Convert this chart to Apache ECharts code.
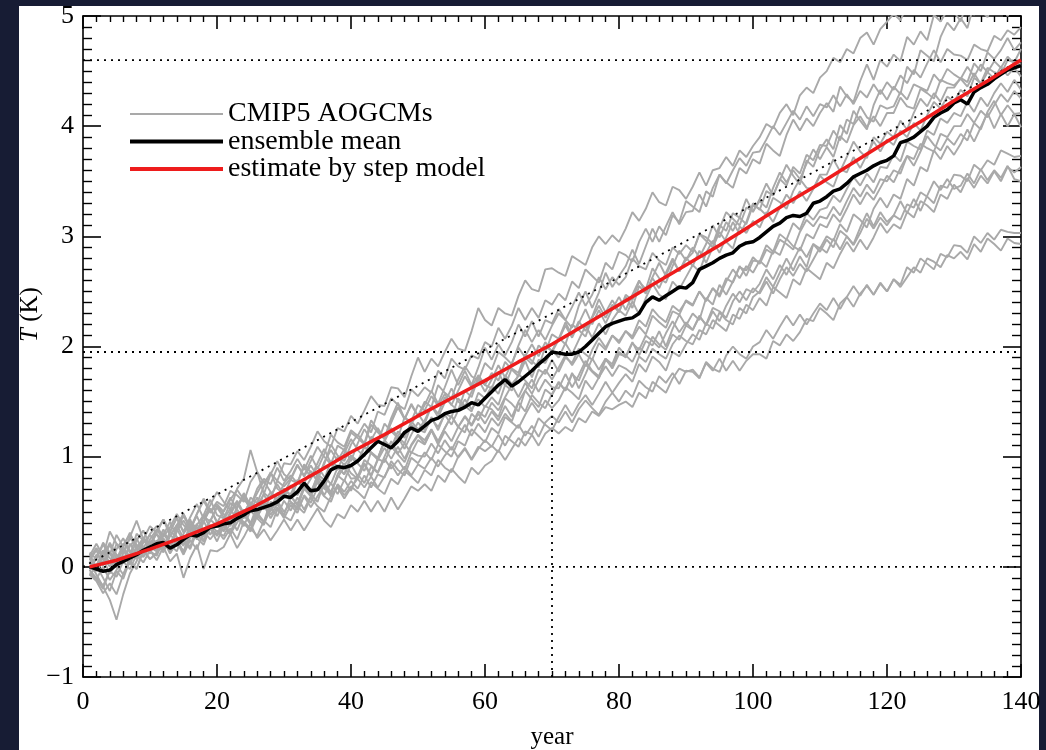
<!DOCTYPE html>
<html><head><meta charset="utf-8">
<script src="https://cdn.jsdelivr.net/npm/echarts@6/dist/echarts.min.js"></script>
<style>
html,body{margin:0;padding:0;background:#171c34;width:1046px;height:750px;overflow:hidden;}
#panel{position:absolute;left:19px;top:6px;width:1020px;height:744px;background:#fff;}
#chart{position:absolute;left:0;top:0;width:1046px;height:750px;}
</style></head><body><div id="panel"></div><div id="chart"></div>
<script>
// ---- data ----
const firstYear = 1;
const xTicks = [0, 20, 40, 60, 80, 100, 120, 140];
const yTicks = [-1, 0, 1, 2, 3, 4, 5];
const gcmLabel = 'CMIP5 AOGCMs';
const meanLabel = 'ensemble mean';
const stepLabel = 'estimate by step model';

const gcmA = [0.07,0.01,0.15,0.03,0.21,0.15,0.10,0.30,0.24,0.20,0.33,0.43,0.28,0.38,0.48,0.35,0.48,0.62,0.50,0.59,0.55,0.69,0.65,0.59,0.77,0.86,0.76,0.85,0.78,0.94,0.93,1.05,0.97,1.09,1.23,1.14,1.09,1.26,1.23,1.37,1.30,1.42,1.55,1.47,1.46,1.63,1.62,1.54,1.73,1.90,1.77,1.89,1.82,1.95,2.07,1.98,1.96,2.14,2.35,2.24,2.19,2.35,2.30,2.28,2.46,2.60,2.52,2.50,2.70,2.71,2.67,2.64,2.82,2.78,2.74,2.90,3.00,2.93,3.01,2.95,3.07,3.22,3.14,3.25,3.40,3.31,3.28,3.45,3.42,3.34,3.45,3.58,3.46,3.60,3.62,3.72,3.64,3.78,3.72,3.82,3.90,4.02,3.98,4.12,4.20,4.10,4.28,4.35,4.30,4.44,4.50,4.62,4.58,4.70,4.66,4.80,4.85,4.74,4.88,4.95,5.02,4.96,5.10,5.20,5.15,5.30,5.35,5.28,5.45,5.50,5.52,5.66,5.60,5.75,5.70,5.85,5.80,5.92,5.88,6.00];
const gcmB = [-0.02,0.10,0.08,0.20,0.07,0.20,0.29,0.20,0.16,0.30,0.37,0.27,0.36,0.48,0.38,0.32,0.48,0.60,0.49,0.57,0.50,0.61,0.70,0.61,0.55,0.71,0.80,0.75,0.90,0.78,0.87,0.98,0.88,1.01,0.89,1.02,1.20,1.13,1.09,1.24,1.19,1.30,1.22,1.41,1.38,1.53,1.47,1.43,1.61,1.55,1.63,1.58,1.78,1.71,1.89,1.82,1.79,1.92,1.89,2.04,2.00,2.17,2.07,2.19,2.35,2.24,2.35,2.26,2.42,2.38,2.48,2.42,2.59,2.53,2.70,2.64,2.58,2.76,2.70,2.86,2.83,2.77,2.95,3.07,2.95,3.09,3.01,3.19,3.13,3.32,3.27,3.22,3.41,3.36,3.56,3.49,3.44,3.62,3.57,3.70,3.66,3.84,3.78,3.73,3.92,4.06,3.96,4.07,4.00,4.12,4.21,4.13,4.36,4.27,4.22,4.41,4.56,4.42,4.60,4.54,4.65,4.59,4.81,4.74,4.86,4.78,5.01,4.95,5.05,5.04,4.95,5.15,5.01,5.19,5.06,5.24,5.23,5.37,5.26,5.35];
const gcmC = [0.12,-0.02,0.09,0.22,0.11,0.03,0.19,0.26,0.13,0.23,0.22,0.34,0.20,0.35,0.46,0.35,0.28,0.46,0.41,0.55,0.48,0.38,0.55,0.66,0.55,0.67,0.78,0.68,0.61,0.76,0.83,0.76,0.93,0.86,0.78,0.95,1.06,0.96,1.07,0.96,1.12,1.25,1.15,1.26,1.16,1.31,1.45,1.34,1.47,1.37,1.50,1.45,1.65,1.58,1.53,1.70,1.82,1.73,1.69,1.85,1.79,1.95,1.90,1.84,2.01,2.15,2.04,2.15,2.06,2.19,2.30,2.24,2.17,2.37,2.50,2.35,2.49,2.67,2.54,2.64,2.73,2.88,2.75,2.91,3.07,2.95,3.09,3.22,3.11,3.22,3.23,3.38,3.27,3.44,3.56,3.48,3.60,3.71,3.64,3.76,3.77,3.88,4.00,3.92,4.03,4.14,4.06,4.18,4.09,4.20,4.17,4.28,4.18,4.29,4.20,4.32,4.26,4.38,4.29,4.40,4.33,4.46,4.39,4.51,4.44,4.57,4.69,4.58,4.70,4.65,4.64,4.60,4.74,4.70,4.68,4.82,4.78,4.87,4.83,4.90];
const gcmD = [-0.06,-0.11,-0.20,-0.03,0.11,0.05,0.21,0.12,0.26,0.21,0.30,0.18,0.32,0.45,0.31,0.43,0.28,0.41,0.53,0.40,0.51,0.63,0.52,0.44,0.63,0.58,0.73,0.86,0.71,0.66,0.79,0.76,0.91,0.81,0.94,1.07,0.94,0.88,1.03,1.16,1.06,1.00,1.18,1.13,1.30,1.23,1.17,1.36,1.30,1.39,1.30,1.46,1.39,1.54,1.47,1.42,1.60,1.54,1.72,1.65,1.62,1.77,1.64,1.80,1.76,1.93,1.87,1.81,2.00,1.96,2.08,2.02,2.20,2.15,2.09,2.26,2.37,2.26,2.38,2.31,2.47,2.42,2.59,2.52,2.71,2.62,2.58,2.73,2.87,2.78,2.90,2.81,2.93,3.10,2.99,3.13,3.05,3.17,3.34,3.22,3.34,3.48,3.37,3.51,3.65,3.55,3.47,3.69,3.63,3.79,3.88,3.79,4.01,3.93,4.14,4.05,3.97,4.19,4.33,4.24,4.36,4.29,4.54,4.47,4.69,4.64,4.59,4.81,4.94,4.87,4.98,4.89,5.11,5.05,4.99,5.17,5.11,5.00,5.12,5.03];
const gcmE = [0.06,0.15,0.01,0.13,-0.01,0.12,0.26,0.19,0.09,0.25,0.34,0.25,0.19,0.36,0.48,0.36,0.30,0.47,0.61,0.47,0.44,0.58,0.53,0.67,0.56,0.49,0.67,0.62,0.78,0.73,0.80,0.93,0.82,0.92,0.82,0.93,1.11,1.01,0.96,1.11,1.20,1.12,1.33,1.24,1.17,1.35,1.49,1.34,1.48,1.37,1.47,1.60,1.48,1.63,1.79,1.65,1.78,1.65,1.81,1.99,1.88,2.02,1.92,2.04,2.20,2.09,2.23,2.09,2.24,2.21,2.34,2.24,2.36,2.49,2.37,2.47,2.63,2.52,2.63,2.56,2.63,2.80,2.73,2.70,2.85,2.78,2.74,2.90,2.84,2.92,2.86,3.02,2.99,2.93,3.10,3.05,3.21,3.17,3.11,3.28,3.25,3.19,3.35,3.31,3.25,3.41,3.52,3.44,3.43,3.56,3.56,3.70,3.59,3.72,3.86,3.77,3.71,3.90,3.84,3.95,3.90,4.05,3.97,4.12,4.25,4.18,4.30,4.22,4.35,4.35,4.44,4.40,4.57,4.50,4.67,4.61,4.69,4.80,4.69,4.76];
const gcmF = [-0.04,0.08,0.20,0.11,0.29,0.18,0.08,0.24,0.33,0.19,0.15,0.29,0.41,0.27,0.20,0.35,0.46,0.32,0.42,0.54,0.45,0.37,0.54,0.64,0.51,0.63,0.52,0.64,0.75,0.65,0.62,0.77,0.72,0.65,0.84,0.79,0.96,0.91,0.84,1.01,0.94,1.09,1.03,0.98,1.15,1.08,1.23,1.17,1.32,1.25,1.22,1.36,1.24,1.39,1.36,1.53,1.46,1.41,1.58,1.53,1.64,1.57,1.74,1.66,1.73,1.87,1.72,1.88,1.85,1.97,1.90,2.03,1.93,2.06,2.19,2.08,2.21,2.11,2.24,2.33,2.28,2.41,2.29,2.44,2.57,2.47,2.43,2.59,2.52,2.63,2.74,2.68,2.85,2.96,2.85,2.99,3.13,3.02,3.13,3.30,3.24,3.41,3.37,3.52,3.46,3.63,3.57,3.74,3.69,3.83,3.82,3.96,3.87,4.06,4.02,4.18,4.08,4.04,4.19,4.16,4.18,4.31,4.24,4.38,4.35,4.32,4.47,4.40,4.52,4.47,4.43,4.54,4.45,4.56,4.49,4.59,4.53,4.63,4.57,4.56];
const gcmG = [0.04,-0.07,-0.18,-0.30,-0.48,-0.25,-0.06,0.05,0.19,0.12,0.24,0.15,0.32,0.27,0.19,0.41,0.35,0.27,0.43,0.37,0.33,0.48,0.58,0.47,0.39,0.56,0.66,0.52,0.67,0.63,0.74,0.65,0.76,0.87,0.78,0.71,0.88,1.00,0.92,1.01,0.96,1.09,1.04,0.97,1.14,1.26,1.18,1.12,1.29,1.24,1.33,1.46,1.36,1.49,1.62,1.50,1.45,1.59,1.70,1.59,1.70,1.83,1.72,1.85,1.99,1.90,1.84,2.01,1.95,2.11,2.07,2.22,2.10,2.23,2.14,2.27,2.43,2.31,2.42,2.32,2.45,2.35,2.55,2.48,2.63,2.76,2.64,2.78,2.68,2.79,2.85,3.02,2.96,2.90,3.07,3.22,3.16,3.10,3.26,3.23,3.32,3.26,3.44,3.58,3.49,3.60,3.52,3.66,3.79,3.70,3.81,3.72,3.91,3.85,4.01,4.09,3.99,4.09,4.00,4.12,4.12,4.26,4.18,4.16,4.34,4.30,4.25,4.42,4.39,4.37,4.43,4.36,4.48,4.38,4.49,4.43,4.54,4.46,4.53,4.45];
const gcmH = [-0.02,0.11,0.07,-0.06,0.03,0.16,0.03,0.17,0.26,0.14,0.10,0.24,0.18,0.34,0.24,0.16,0.32,0.42,0.29,0.41,0.32,0.45,0.33,0.48,0.58,0.46,0.41,0.59,0.56,0.68,0.59,0.54,0.71,0.64,0.80,0.71,0.66,0.83,0.78,0.93,0.82,0.97,0.92,0.86,1.00,1.14,1.03,1.12,1.03,1.15,1.11,1.24,1.11,1.23,1.14,1.27,1.36,1.28,1.39,1.30,1.41,1.33,1.46,1.36,1.50,1.60,1.52,1.45,1.61,1.56,1.67,1.60,1.76,1.62,1.75,1.89,1.79,1.89,1.80,1.93,1.91,2.04,1.92,2.05,2.01,2.14,2.00,2.16,2.29,2.19,2.30,2.24,2.44,2.38,2.56,2.47,2.59,2.73,2.64,2.78,2.77,2.92,2.86,3.02,2.97,3.12,3.06,3.21,3.15,3.24,3.26,3.37,3.31,3.43,3.54,3.46,3.57,3.49,3.63,3.62,3.74,3.68,3.86,3.82,3.79,3.96,3.92,4.07,4.03,4.12,4.09,4.22,4.13,4.26,4.18,4.30,4.39,4.31,4.42,4.33];
const gcmI = [0.10,0.21,0.10,0.32,0.21,0.12,0.27,0.42,0.25,0.37,0.31,0.43,0.32,0.44,0.32,0.45,0.57,0.44,0.56,0.68,0.59,0.52,0.71,0.80,1.06,0.86,0.66,0.84,0.96,0.84,0.79,0.92,0.83,0.96,1.09,1.00,0.93,1.10,1.06,1.22,1.17,1.11,1.29,1.22,1.16,1.32,1.45,1.35,1.32,1.47,1.42,1.55,1.46,1.57,1.47,1.60,1.73,1.63,1.74,1.65,1.76,1.69,1.86,1.79,1.73,1.91,2.02,1.91,2.04,1.95,2.06,2.19,2.08,2.21,2.34,2.20,2.33,2.21,2.34,2.45,2.33,2.47,2.60,2.49,2.62,2.53,2.67,2.80,2.68,2.81,2.73,2.87,2.76,2.90,3.04,2.95,2.89,3.09,3.03,3.14,3.08,3.22,3.13,3.26,3.38,3.30,3.41,3.32,3.43,3.55,3.49,3.45,3.61,3.58,3.72,3.62,3.74,3.86,3.77,3.88,3.83,3.96,3.90,4.03,3.96,4.10,4.22,4.16,4.27,4.22,4.33,4.27,4.44,4.39,4.53,4.49,4.47,4.60,4.58,4.70];
const gcmJ = [-0.08,0.01,-0.10,-0.22,-0.04,-0.11,0.06,-0.02,0.16,0.07,0.13,0.25,0.13,0.25,0.13,0.31,0.26,0.20,0.36,0.28,0.38,0.31,0.47,0.39,0.34,0.48,0.58,0.47,0.57,0.47,0.64,0.57,0.73,0.66,0.59,0.77,0.68,0.81,0.91,0.80,0.81,0.94,0.83,0.98,0.95,1.09,1.02,0.95,1.10,1.19,1.12,1.24,1.13,1.26,1.37,1.27,1.37,1.29,1.41,1.36,1.49,1.42,1.54,1.65,1.54,1.67,1.57,1.70,1.79,1.70,1.81,1.92,1.83,1.93,1.82,1.97,2.08,1.99,2.10,2.03,2.14,2.09,2.24,2.18,2.34,2.27,2.22,2.37,2.32,2.41,2.37,2.50,2.42,2.53,2.45,2.59,2.70,2.62,2.73,2.67,2.78,2.72,2.87,2.83,2.98,2.91,2.87,3.02,2.98,3.11,3.08,3.20,3.13,3.25,3.38,3.29,3.40,3.33,3.44,3.55,3.49,3.62,3.73,3.64,3.77,3.91,3.83,3.78,3.89,3.83,3.93,3.87,4.03,3.97,4.13,4.23,4.10,4.19,4.11,4.12];
const gcmK = [0.08,-0.01,0.15,0.08,0.00,0.21,0.15,0.08,0.22,0.29,0.21,0.13,0.28,0.38,0.26,0.18,0.38,0.47,0.35,0.29,0.43,0.53,0.42,0.52,0.38,0.50,0.60,0.51,0.61,0.71,0.64,0.56,0.73,0.68,0.82,0.75,0.67,0.84,0.94,0.85,0.80,0.93,0.82,0.97,1.08,0.98,1.09,0.98,1.11,1.20,1.15,1.25,1.14,1.26,1.37,1.27,1.22,1.39,1.33,1.46,1.43,1.36,1.53,1.48,1.41,1.60,1.70,1.59,1.70,1.63,1.62,1.75,1.63,1.74,1.87,1.78,1.73,1.89,1.84,1.99,1.92,1.86,1.99,1.94,2.09,2.02,1.97,2.11,2.06,2.19,2.15,2.28,2.19,2.32,2.23,2.37,2.48,2.40,2.52,2.49,2.57,2.70,2.61,2.74,2.65,2.78,2.90,2.81,2.93,2.89,3.00,2.96,3.11,3.04,3.20,3.15,3.08,3.25,3.35,3.26,3.38,3.34,3.52,3.46,3.63,3.59,3.78,3.70,3.82,3.74,3.84,3.97,3.86,3.99,4.12,3.98,4.11,4.00,4.11,3.99];
const gcmL = [-0.05,-0.11,0.00,-0.12,-0.03,0.10,0.02,0.17,0.09,0.18,0.14,0.26,0.13,0.25,0.13,0.26,0.36,0.24,0.35,0.23,0.37,0.29,0.45,0.37,0.51,0.44,0.38,0.54,0.46,0.60,0.51,0.63,0.52,0.64,0.77,0.65,0.76,0.66,0.79,0.69,0.84,0.76,0.91,0.85,0.98,0.89,0.97,0.88,1.04,1.01,1.00,1.12,1.03,1.15,1.06,1.18,1.29,1.19,1.30,1.22,1.35,1.28,1.39,1.32,1.49,1.41,1.56,1.49,1.44,1.57,1.68,1.60,1.75,1.69,1.84,1.77,1.71,1.88,1.82,1.95,1.90,2.03,1.97,2.10,2.05,1.99,2.12,2.23,2.13,2.22,2.15,2.27,2.20,2.35,2.32,2.26,2.41,2.50,2.42,2.53,2.48,2.59,2.48,2.61,2.72,2.64,2.75,2.68,2.79,2.90,2.85,2.98,2.88,3.00,2.92,3.03,3.16,3.07,3.17,3.10,3.19,3.15,3.29,3.26,3.40,3.36,3.30,3.46,3.44,3.56,3.55,3.50,3.65,3.60,3.69,3.65,3.78,3.75,3.72,3.73];
const gcmM = [0.13,0.07,0.22,0.13,0.03,0.18,0.31,0.16,0.12,0.23,0.19,0.31,0.20,0.14,0.30,0.39,0.29,0.23,0.38,0.32,0.28,0.40,0.50,0.40,0.32,0.46,0.56,0.44,0.54,0.44,0.56,0.49,0.65,0.58,0.72,0.64,0.59,0.75,0.68,0.78,0.71,0.83,0.72,0.84,0.81,0.96,0.88,0.83,0.99,0.94,1.04,0.97,1.11,1.05,1.00,1.14,1.10,1.25,1.19,1.13,1.26,1.21,1.36,1.31,1.26,1.38,1.49,1.40,1.51,1.44,1.51,1.63,1.58,1.52,1.69,1.61,1.72,1.82,1.73,1.83,1.80,1.75,1.91,1.86,1.98,1.93,1.89,2.02,2.10,2.05,2.02,2.15,2.11,2.24,2.19,2.14,2.29,2.25,2.38,2.33,2.44,2.37,2.54,2.49,2.44,2.61,2.56,2.71,2.66,2.61,2.76,2.71,2.84,2.95,2.86,2.97,2.88,2.99,3.12,3.03,3.11,3.07,3.22,3.17,3.32,3.28,3.22,3.38,3.34,3.47,3.40,3.53,3.44,3.55,3.48,3.59,3.50,3.63,3.58,3.63];
const gcmN = [-0.07,-0.13,-0.24,-0.15,-0.25,-0.07,0.05,-0.02,0.14,0.07,0.12,0.24,0.12,0.23,0.11,0.24,0.16,0.32,0.25,0.33,0.25,0.35,0.25,0.41,0.35,0.28,0.42,0.36,0.52,0.46,0.42,0.55,0.49,0.63,0.55,0.50,0.64,0.74,0.65,0.73,0.68,0.62,0.77,0.71,0.66,0.80,0.75,0.87,0.82,0.76,0.88,0.83,0.97,0.90,0.86,1.00,1.08,0.98,1.09,1.05,1.10,1.04,1.19,1.14,1.09,1.23,1.20,1.35,1.29,1.24,1.36,1.47,1.37,1.48,1.56,1.47,1.57,1.68,1.58,1.67,1.75,1.68,1.84,1.77,1.91,1.86,1.78,1.95,1.91,2.02,2.11,2.06,2.21,2.16,2.31,2.24,2.20,2.35,2.30,2.45,2.50,2.63,2.54,2.67,2.80,2.69,2.82,2.72,2.93,2.86,2.97,2.90,3.05,3.00,2.93,3.08,3.21,3.09,3.22,3.13,3.19,3.32,3.21,3.34,3.23,3.37,3.50,3.42,3.52,3.43,3.46,3.57,3.48,3.61,3.51,3.60,3.53,3.64,3.52,3.50];
const gcmO = [0.05,-0.04,0.05,0.14,0.02,-0.07,0.08,0.17,0.26,0.15,0.22,0.16,0.29,0.23,0.14,0.29,0.39,0.28,0.36,0.29,0.39,0.30,0.40,0.50,0.40,0.49,0.41,0.51,0.60,0.50,0.58,0.52,0.64,0.54,0.64,0.74,0.64,0.72,0.62,0.72,0.80,0.72,0.82,0.72,0.82,0.93,0.83,0.91,0.83,0.93,0.89,0.99,0.91,1.01,1.09,0.99,1.07,0.97,1.07,1.15,1.09,1.20,1.10,1.21,1.29,1.19,1.28,1.18,1.31,1.37,1.31,1.41,1.31,1.43,1.51,1.44,1.38,1.50,1.58,1.50,1.60,1.54,1.69,1.63,1.59,1.73,1.67,1.76,1.66,1.78,1.77,1.71,1.86,1.80,1.77,1.92,2.00,1.93,1.89,2.00,2.04,2.15,2.07,2.18,2.28,2.19,2.29,2.20,2.30,2.39,2.33,2.44,2.34,2.45,2.55,2.46,2.56,2.47,2.57,2.50,2.61,2.56,2.72,2.67,2.80,2.75,2.70,2.84,2.81,2.92,2.91,2.85,3.00,2.94,3.03,2.97,3.06,3.04,3.03,3.03];
const gcmP = [-0.03,-0.10,-0.17,-0.04,-0.09,0.05,-0.02,0.11,0.04,0.15,0.06,0.18,0.05,0.12,-0.10,0.08,0.20,-0.02,0.15,0.14,0.18,0.30,0.17,0.27,0.39,0.26,0.34,0.24,0.33,0.43,0.33,0.43,0.33,0.43,0.53,0.42,0.36,0.48,0.44,0.56,0.50,0.60,0.50,0.60,0.50,0.63,0.52,0.62,0.73,0.69,0.75,0.69,0.83,0.77,0.89,0.82,0.76,0.90,0.84,0.92,0.96,1.06,0.97,1.07,1.17,1.10,1.20,1.10,1.21,1.26,1.21,1.27,1.23,1.35,1.31,1.41,1.37,1.45,1.43,1.47,1.50,1.45,1.58,1.53,1.68,1.63,1.58,1.71,1.80,1.77,1.79,1.72,1.85,1.78,1.89,1.78,1.87,1.78,1.87,1.93,1.93,1.89,2.05,2.01,2.11,2.05,2.13,2.25,2.23,2.35,2.30,2.24,2.39,2.45,2.36,2.48,2.55,2.47,2.58,2.50,2.61,2.54,2.63,2.72,2.67,2.80,2.77,2.72,2.83,2.80,2.86,2.79,2.93,2.86,2.98,2.93,2.87,2.98,2.94,2.93];
const gcmQ = [0.08,0.17,0.09,0.00,0.16,0.26,0.13,0.07,0.24,0.20,0.30,0.22,0.16,0.32,0.42,0.32,0.25,0.41,0.53,0.41,0.37,0.50,0.60,0.49,0.59,0.45,0.58,0.68,0.59,0.69,0.66,0.79,0.70,0.80,0.91,0.82,0.75,0.90,0.84,0.99,0.94,0.87,1.04,0.99,1.14,1.07,1.18,1.07,1.20,1.31,1.24,1.34,1.27,1.38,1.29,1.42,1.52,1.43,1.52,1.45,1.54,1.47,1.65,1.60,1.75,1.69,1.62,1.79,1.75,1.88,1.77,1.90,1.85,1.98,1.93,1.88,2.03,1.97,2.10,2.05,2.14,2.07,2.18,2.11,2.28,2.22,2.17,2.32,2.29,2.42,2.38,2.50,2.41,2.53,2.47,2.62,2.58,2.72,2.69,2.81,2.75,2.88,2.84,2.97,2.93,2.88,3.04,3.15,3.09,3.18,3.16,3.27,3.19,3.32,3.44,3.36,3.47,3.39,3.52,3.50,3.60,3.57,3.73,3.70,3.84,3.80,3.77,3.93,3.90,4.00,4.00,4.11,4.03,4.14,4.08,4.19,4.29,4.22,4.32,4.25];

const ensembleMean = [0.00,-0.02,-0.04,-0.03,0.02,0.05,0.08,0.11,0.15,0.18,0.21,0.22,0.17,0.20,0.25,0.29,0.28,0.31,0.36,0.37,0.39,0.40,0.44,0.47,0.51,0.52,0.54,0.56,0.59,0.64,0.63,0.68,0.76,0.69,0.70,0.78,0.88,0.91,0.90,0.92,0.96,1.02,1.08,1.14,1.11,1.08,1.14,1.22,1.26,1.23,1.28,1.33,1.35,1.39,1.41,1.42,1.45,1.49,1.47,1.53,1.59,1.65,1.70,1.64,1.68,1.73,1.78,1.84,1.89,1.95,1.94,1.93,1.93,1.95,2.00,2.06,2.12,2.18,2.21,2.23,2.25,2.26,2.30,2.40,2.45,2.42,2.46,2.50,2.54,2.53,2.58,2.70,2.73,2.76,2.80,2.83,2.85,2.91,2.94,2.95,2.99,3.04,3.09,3.12,3.17,3.19,3.18,3.21,3.30,3.32,3.36,3.41,3.43,3.48,3.54,3.57,3.60,3.64,3.67,3.69,3.73,3.85,3.87,3.90,3.95,4.00,4.08,4.12,4.15,4.21,4.24,4.20,4.31,4.35,4.38,4.43,4.47,4.51,4.53,4.55];

const stepYears = [1,5,10,15,20,25,30,35,40,45,50,55,60,65,70,75,80,85,90,95,100,105,110,115,120,125,130,135,140];
const stepModel = [0.00,0.06,0.16,0.27,0.39,0.53,0.69,0.86,1.04,1.20,1.37,1.53,1.69,1.86,2.02,2.20,2.38,2.56,2.74,2.92,3.11,3.30,3.48,3.67,3.86,4.04,4.23,4.41,4.60];

// dotted guide lines
const guideLevels = [0, 1.95, 4.6];
const guideYear = 70;
const guideYearTop = 1.95;
const diagonalEnd = [140, 4.6];

// ---- chart ----
const gcmRuns = [gcmA,gcmB,gcmC,gcmD,gcmE,gcmF,gcmG,gcmH,gcmI,gcmJ,gcmK,gcmL,gcmM,gcmN,gcmO,gcmP,gcmQ];
const toPairs = vals => vals.map((v, i) => [firstYear + i, v]);
const FONT = 'Liberation Serif';
const xMin = xTicks[0], xMax = xTicks[xTicks.length - 1];
const yMin = yTicks[0], yMax = yTicks[yTicks.length - 1];
const GRAY = '#a9a9a9', RED = '#ee1c1c';

const series = [];
gcmRuns.forEach(run => series.push({
  name: gcmLabel, type: 'line', data: toPairs(run), symbol: 'none', silent: true,
  lineStyle: { color: GRAY, width: 1.9 }, itemStyle: { color: GRAY }, z: 2
}));
const dotted = { color: '#000', width: 1.8, type: [2, 5] };
guideLevels.forEach(lv => series.push({
  name: 'guide', type: 'line', data: [[xMin, lv], [xMax, lv]], symbol: 'none', silent: true,
  lineStyle: dotted, z: 3
}));
series.push({ name: 'guide', type: 'line', data: [[guideYear, yMin], [guideYear, guideYearTop]], symbol: 'none', silent: true, lineStyle: dotted, z: 3 });
series.push({ name: 'guide', type: 'line', data: [[xMin, 0], diagonalEnd], symbol: 'none', silent: true, lineStyle: dotted, z: 3 });
series.push({ name: meanLabel, type: 'line', data: toPairs(ensembleMean), symbol: 'none',
  lineStyle: { color: '#000', width: 3.5 }, itemStyle: { color: '#000' }, z: 4 });
series.push({ name: stepLabel, type: 'line', data: stepYears.map((y, i) => [y, stepModel[i]]), symbol: 'none',
  lineStyle: { color: RED, width: 3.5 }, itemStyle: { color: RED }, z: 5 });

const axisLine = { show: true, onZero: false, lineStyle: { color: '#000', width: 1.6 } };
function xAx(pos, labels) {
  return {
    type: 'value', position: pos, min: xMin, max: xMax, interval: 20,
    axisLine: axisLine,
    axisTick: { show: true, inside: true, length: 13, lineStyle: { color: '#000', width: 1.6 } },
    minorTick: { show: true, splitNumber: 10, length: 6, lineStyle: { color: '#000', width: 1.4 } },
    splitLine: { show: false }, minorSplitLine: { show: false },
    axisLabel: { show: labels, fontFamily: FONT, fontSize: 26, color: '#000', margin: 12 },
    name: labels ? 'year' : '', nameLocation: 'middle', nameGap: 48, nameMoveOverlap: false,
    nameTextStyle: { fontFamily: FONT, fontSize: 25, color: '#000' }
  };
}
function yAx(pos, labels) {
  return {
    type: 'value', position: pos, min: yMin, max: yMax, interval: 1,
    axisLine: axisLine,
    axisTick: { show: true, inside: true, length: 18, lineStyle: { color: '#000', width: 1.6 } },
    minorTick: { show: true, splitNumber: 10, length: 9, lineStyle: { color: '#000', width: 1.4 } },
    splitLine: { show: false }, minorSplitLine: { show: false },
    axisLabel: { show: labels, fontFamily: FONT, fontSize: 26, color: '#000', margin: 9,
      formatter: v => String(v).replace('-', '\u2212') },
    name: labels ? '{i|T} (K)' : '', nameLocation: 'middle', nameGap: 40, nameRotate: 90,
    nameMoveOverlap: false,
    nameTextStyle: { fontFamily: FONT, fontSize: 25, color: '#000', padding: [0, 0, 0, 64],
      rich: { i: { fontFamily: FONT, fontSize: 25, fontStyle: 'italic', color: '#000' } } }
  };
}

const thinIcon = 'path://M0,0M93,20M0,9H93V11H0Z';
const thickIcon = 'path://M0,0M93,20M0,8H93V12H0Z';

const chart = echarts.init(document.getElementById('chart'), null, { renderer: 'canvas' });
chart.setOption({
  animation: false,
  backgroundColor: 'transparent',
  grid: { left: 83, right: 25, top: 16, bottom: 73, containLabel: false, outerBoundsMode: 'none' },
  xAxis: [xAx('bottom', true), xAx('top', false)],
  yAxis: [yAx('left', true), yAx('right', false)],
  legend: {
    data: [
      { name: gcmLabel, icon: thinIcon },
      { name: meanLabel, icon: thickIcon },
      { name: stepLabel, icon: thickIcon }
    ],
    orient: 'vertical', left: 130, top: 100, padding: 0,
    itemWidth: 93, itemHeight: 20, itemGap: -0.5,
    textStyle: { fontFamily: FONT, fontSize: 28, lineHeight: 25, color: '#000' }
  },
  series: series
});
</script></body></html>
